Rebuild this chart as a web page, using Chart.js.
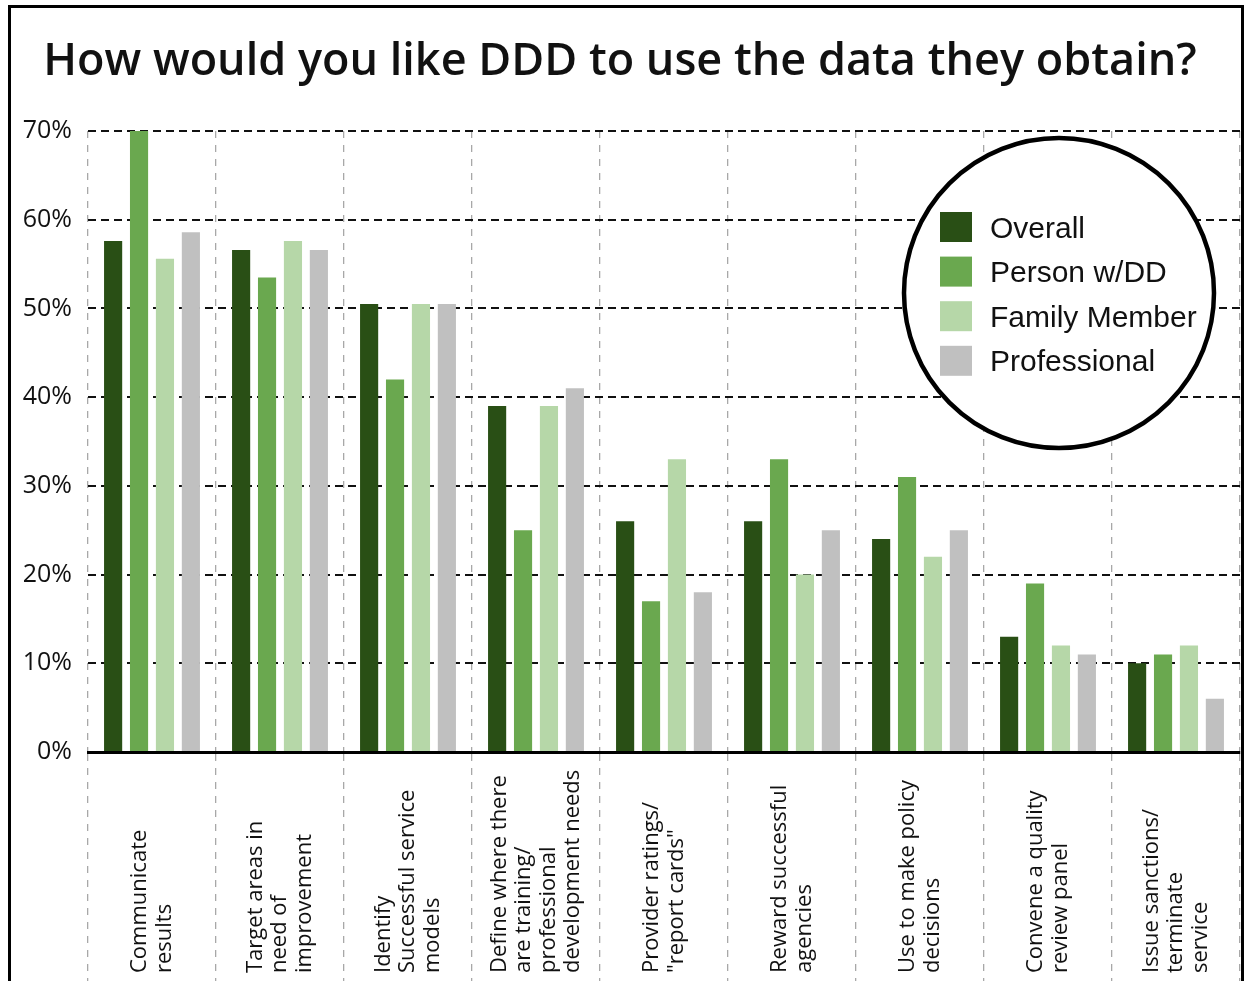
<!DOCTYPE html>
<html>
<head>
<meta charset="utf-8">
<title>How would you like DDD to use the data they obtain?</title>
<script src="https://cdn.jsdelivr.net/npm/chart.js@4/dist/chart.umd.min.js"></script>
<style>
  html, body { margin: 0; padding: 0; background: #fff; }
  #wrap { width: 1248px; height: 981px; position: relative; }
</style>
</head>
<body>
<div id="wrap"><canvas id="chart" width="1248" height="981"></canvas></div>
<script>
// Survey answers: share of respondents choosing each use of the data
const categories = [
  ['Communicate', 'results'],
  ['Target areas in', 'need of', 'improvement'],
  ['Identify', 'Successful service', 'models'],
  ['Define where there', 'are training/', 'professional', 'development needs'],
  ['Provider ratings/', '"report cards"'],
  ['Reward successful', 'agencies'],
  ['Use to make policy', 'decisions'],
  ['Convene a quality', 'review panel'],
  ['Issue sanctions/', 'terminate', 'service']
];
const seriesNames = ['Overall', 'Person w/DD', 'Family Member', 'Professional'];
const overall      = [57.6, 56.6, 50.5, 39, 26, 26, 24, 13, 10];
const personWithDD = [70, 53.5, 42, 25, 17, 33, 31, 19, 11];
const familyMember = [55.6, 57.6, 50.5, 39, 33, 20, 22, 12, 12];
const professional = [58.6, 56.6, 50.5, 41, 18, 25, 25, 11, 6];
const yTickLabels  = ['0%', '10%', '20%', '30%', '40%', '50%', '60%', '70%'];

const seriesColors = ['#294f15', '#6aa84f', '#b6d7a8', '#c0c0c0'];
const seriesValues = [overall, personWithDD, familyMember, professional];

// Page frame, rotated category labels and the circular legend
const decorations = {
  id: 'decorations',
  beforeDraw(chart) {
    const ctx = chart.ctx;
    ctx.save();
    ctx.fillStyle = '#ffffff';
    ctx.fillRect(0, 0, chart.width, chart.height);
    ctx.restore();
  },
  afterDraw(chart) {
    const ctx = chart.ctx;
    const x = chart.scales.x;

    // category labels, read bottom-to-top, starting from the bottom edge
    ctx.save();
    ctx.font = '22px "Open Sans", "Noto Sans", sans-serif';
    ctx.fillStyle = '#111';
    ctx.textAlign = 'left';
    ctx.textBaseline = 'middle';
    chart.data.labels.forEach((lines, i) => {
      const cx = x.getPixelForValue(i);
      const n = lines.length;
      const pitch = 24.5;
      lines.forEach((line, j) => {
        const px = cx + (j - (n - 1) / 2) * pitch;
        ctx.save();
        ctx.translate(px, 973);
        ctx.rotate(-Math.PI / 2);
        ctx.fillText(line, 0, 0);
        ctx.restore();
      });
    });
    ctx.restore();

    // circular legend
    const cx = 1059, cy = 293, r = 155;
    ctx.save();
    ctx.beginPath();
    ctx.arc(cx, cy, r, 0, Math.PI * 2);
    ctx.fillStyle = '#ffffff';
    ctx.fill();
    ctx.lineWidth = 4.5;
    ctx.strokeStyle = '#000';
    ctx.stroke();
    ctx.font = '30px "Liberation Sans", Arial, sans-serif';
    ctx.textAlign = 'left';
    ctx.textBaseline = 'alphabetic';
    chart.data.datasets.forEach((ds, i) => {
      const yc = 227 + i * 44.6;
      ctx.fillStyle = ds.backgroundColor;
      ctx.fillRect(940, yc - 15, 32, 30);
      ctx.fillStyle = '#111';
      ctx.fillText(ds.label, 990, yc + 10.5);
    });
    ctx.restore();

    // outer frame (open at the bottom)
    ctx.save();
    ctx.strokeStyle = '#000';
    ctx.lineWidth = 3;
    ctx.beginPath();
    ctx.moveTo(9.5, chart.height);
    ctx.lineTo(9.5, 6.5);
    ctx.lineTo(1242.5, 6.5);
    ctx.lineTo(1242.5, chart.height);
    ctx.stroke();
    ctx.restore();
  }
};

new Chart(document.getElementById('chart'), {
  type: 'bar',
  data: {
    labels: categories,
    datasets: seriesNames.map((name, i) => ({
      label: name,
      data: seriesValues[i],
      backgroundColor: seriesColors[i],
      borderWidth: 0,
      categoryPercentage: 0.81,
      barPercentage: 0.7
    }))
  },
  options: {
    responsive: false,
    animation: false,
    layout: { padding: { left: 0, right: 8, top: 0, bottom: 0 } },
    plugins: {
      legend: { display: false },
      tooltip: { enabled: false },
      title: {
        display: true,
        text: 'How would you like DDD to use the data they obtain?',
        color: '#111',
        font: { family: '"Open Sans", "Noto Sans", sans-serif', size: 45, weight: '600', lineHeight: 1.2 },
        padding: { top: 35, bottom: 42 }
      }
    },
    scales: {
      x: {
        offset: true,
        grid: {
          offset: true,
          color: '#a8a8a8',
          lineWidth: 1.3,
          drawTicks: true,
          tickLength: 229,
          tickColor: '#a8a8a8',
          tickWidth: 1.3,
          tickBorderDash: [7, 7]
        },
        border: { display: true, color: '#000', width: 3, dash: [7, 7] },
        ticks: { display: false },
        afterFit(scale) { scale.height = 229; }
      },
      y: {
        min: 0,
        max: 70,
        ticks: {
          stepSize: 10,
          padding: 16,
          color: '#111',
          font: { family: '"Open Sans", "Noto Sans", sans-serif', size: 25 },
          callback: (value, index) => yTickLabels[index]
        },
        grid: {
          color: '#111',
          lineWidth: 2,
          drawTicks: false
        },
        border: { display: false, dash: [8, 5] },
        afterFit(scale) { scale.width = 88; }
      }
    }
  },
  plugins: [decorations]
});
</script>
</body>
</html>
